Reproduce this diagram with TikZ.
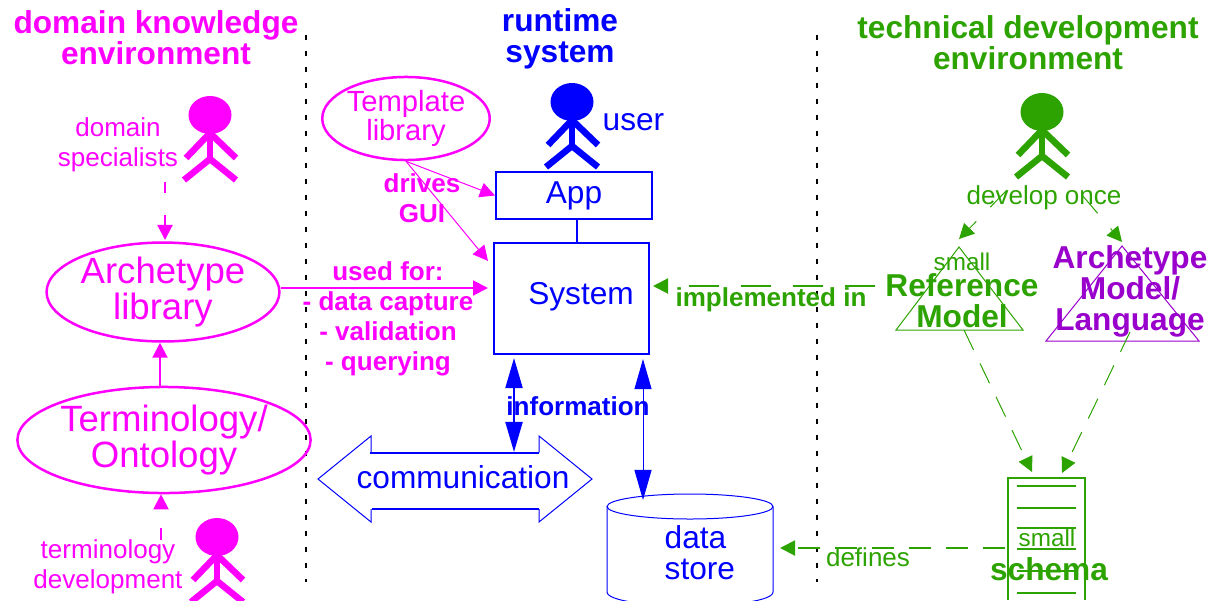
\documentclass[tikz,border=0pt]{standalone}
\usepackage{fontspec}
\setmainfont{Liberation Sans}
\usetikzlibrary{arrows.meta,shapes.geometric}
\definecolor{domaincol}{RGB}{255,0,255}
\definecolor{devcol}{RGB}{44,163,0}
\definecolor{modelcol}{RGB}{153,0,204}
\newcommand{\smalltext}{\fontsize{7.4}{8.5}\selectfont}
\newcommand{\midtext}{\fontsize{9}{8.8}\selectfont}
\newcommand{\bigtext}{\fontsize{10.4}{10.2}\selectfont}
\tikzset{
  lbl/.style={inner sep=0pt, align=center, font=\smalltext},
  boldlbl/.style={inner sep=0pt, align=center, font=\smalltext\bfseries},
  midlbl/.style={inner sep=0pt, align=center, font=\midtext},
  headlbl/.style={inner sep=0pt, align=center, font=\midtext\bfseries},
  oval/.style={draw, ellipse, line width=0.025cm, inner sep=0pt, align=center},
  boxnode/.style={draw, rectangle, line width=0.02cm, inner sep=0pt},
  thinline/.style={line width=0.01cm},
  medline/.style={line width=0.02cm},
  dash long/.style={dash pattern=on 0.22cm off 0.15cm},
  border/.style={black, line width=0.02cm, dash pattern=on 0.05cm off 0.11cm},
  tip/.style={-{Triangle[length=0.15cm,width=0.15cm]}},
  wide tip/.style={{Triangle[length=0.3cm,width=0.17cm]}-{Triangle[length=0.3cm,width=0.17cm]}},
  pics/actor/.style={code={
    \fill (0,0) ellipse [x radius=21.5, y radius=19];
    \draw[line width=0.065cm] (-24,43) -- (0,18) -- (26,43);
    \draw[line width=0.065cm] (0,18) -- (0,44);
    \draw[line width=0.065cm] (-26,65) -- (0,44) -- (26,65);
  }}
}
\begin{document}
\begin{tikzpicture}[x=0.01cm, y=-0.01cm]
\useasboundingbox (0,0) rectangle (1210,600);
% environment borders
\coordinate (left top) at (306,35);
\coordinate (left end) at (306,582);
\coordinate (right top) at (817,35);
\coordinate (right end) at (817,582);
\draw[border] (left top) -- (left end);
\draw[border] (right top) -- (right end);
% domain knowledge side
\node[headlbl, domaincol] (domain title) at (156,38) {domain knowledge\\environment};
\pic[color=domaincol] at (210,115) {actor};
\node[lbl, domaincol] (specialists) at (118,145) {domain\\specialists};
\node[oval, domaincol, minimum width=2.01cm, minimum height=0.97cm, font=\bigtext] (archetype lib) at (163,292) {Archetype\\library};
\node[oval, domaincol, minimum width=2.55cm, minimum height=1.06cm, font=\bigtext] (terminology) at (164,440) {Terminology/\\Ontology};
\pic[color=domaincol] at (217,537) {actor};
\node[lbl, domaincol] (term dev) at (108,567) {terminology\\development};
\coordinate (specialists out) at (165,182);
\coordinate (term out) at (161,540);
\coordinate (system left) at (488,288);
\coordinate (system corner) at (488,261);
\draw[medline, domaincol, tip, dash pattern=on 0.11cm off 0.22cm] (specialists out) -- (165,240);
\draw[medline, domaincol, tip, dash pattern=on 0.12cm off 0.23cm] (term out) -- (terminology.south -| term out);
\draw[medline, domaincol, tip] (terminology.north -| 160,0) -- (archetype lib.south -| 160,0);
\draw[medline, domaincol, tip] (archetype lib.east |- system left) -- (system left);
\node[boldlbl, domaincol] (used for) at (388,319) {used for:\\- data capture\\- validation\\- querying};
% runtime system
\node[headlbl, blue] (runtime title) at (560,39) {runtime\\system};
\pic[color=blue] at (572,102) {actor};
\node[midlbl, blue, anchor=west] (user) at (602,122) {user};
\node[oval, domaincol, minimum width=1.67cm, minimum height=0.83cm, font=\fontsize{8.3}{8.5}\selectfont] (template) at (406,118.5) {Template\\library};
\node[boxnode, blue, minimum width=1.56cm, minimum height=0.47cm, midlbl] (app) at (574,195.5) {App};
\node[boxnode, blue, minimum width=1.55cm, minimum height=1.11cm] (system) at (571.5,298.5) {};
\node[midlbl, blue] (system text) at (581,297) {System};
\draw[medline, blue] (app.south -| 577,0) -- (system.north -| 577,0);
\draw[thinline, domaincol, tip] (template.south) -- (app.west);
\draw[thinline, domaincol, tip] (template.south) -- (system corner);
\node[boldlbl, domaincol] (drives) at (422,198) {drives\\GUI};
% communication arrow
\draw[thinline, blue] (371,452.5) -- (371,436) -- (318,479) -- (371,522) -- (371,509);
\draw[thinline, blue] (539,452.5) -- (539,436) -- (592,479) -- (539,522) -- (539,509);
\draw[medline, blue] (370,452.5) -- (539,452.5);
\draw[medline, blue] (372,509) -- (539,509);
\node[midlbl, blue] (communication) at (463,477) {communication};
% data store
\draw[thinline, blue] (607,506.5) -- (607,592) .. controls (607,601) and (650,606) .. (690,606) .. controls (730,606) and (773,601) .. (773,592) -- (773,506.5);
\draw[thinline, blue] (690,506.5) ellipse [x radius=83, y radius=12.5];
\coordinate (store top) at (643,500);
\node[midlbl, blue, anchor=west, align=left] (store) at (664,553) {data\\store};
\coordinate (comm top) at (514,452);
\draw[medline, blue, wide tip] (system.south -| comm top) ++(0,3) -- (comm top);
\draw[thinline, blue, wide tip] (system.south -| store top) ++(0,4) -- (store top);
\node[boldlbl, blue] (information) at (578,406) {information};
% technical development side
\node[headlbl, devcol] (tech title) at (1028,43) {technical development\\environment};
\pic[color=devcol] at (1042,112) {actor};
\node[lbl, devcol] (develop) at (1044,198) {develop once};
\coordinate (rm apex) at (959,247);
\coordinate (rm left) at (896,330);
\coordinate (rm right) at (1023,330);
\coordinate (am apex) at (1122,246);
\coordinate (am left) at (1046,341);
\coordinate (am right) at (1199,341);
\draw[thinline, devcol] (rm apex) -- (rm left) -- (rm right) -- cycle;
\draw[thinline, modelcol] (am apex) -- (am left) -- (am right) -- cycle;
\node[lbl, devcol, font=\fontsize{6.9}{8}\selectfont] (small rm) at (962,262) {small};
\node[headlbl, devcol] (ref model) at (962,301) {Reference\\Model};
\node[headlbl, modelcol] (arch model) at (1130,291) {Archetype\\Model/\\Language};
\draw[medline, devcol, tip, thinline, dash pattern=on 0.24cm off 0.2cm] (1007,190) -- (959,239);
\draw[medline, devcol, tip, thinline, dash pattern=on 0.24cm off 0.2cm] (1082,195) -- (1122,242);
% schema
\draw[medline, devcol] (1008,600) -- (1008,478) -- (1085,478) -- (1085,600);
\foreach \liney in {486,508,528,549,571,593}
  \draw[medline, devcol] (1017,\liney) -- (1076,\liney);
\node[lbl, devcol, font=\fontsize{6.9}{8}\selectfont] (small schema) at (1047,538) {small};
\node[headlbl, devcol] (schema) at (1049,569) {schema};
\coordinate (schema left) at (1005,548);
\coordinate (schema top a) at (1032,472);
\coordinate (schema top b) at (1062,473);
\draw[thinline, devcol, tip, dash long] (964,330) -- (schema top a);
\draw[thinline, devcol, tip, dash long] (1130,332) -- (schema top b);
\draw[medline, devcol, tip, dash long] (schema left) -- (780,548);
\node[lbl, devcol] (defines) at (868,557) {defines};
\draw[medline, devcol, tip, dash pattern=on 0.3cm off 0.22cm] (875,286) -- (653,286);
\node[boldlbl, devcol] (implemented) at (771,300) {implemented in};
\end{tikzpicture}
\end{document}
